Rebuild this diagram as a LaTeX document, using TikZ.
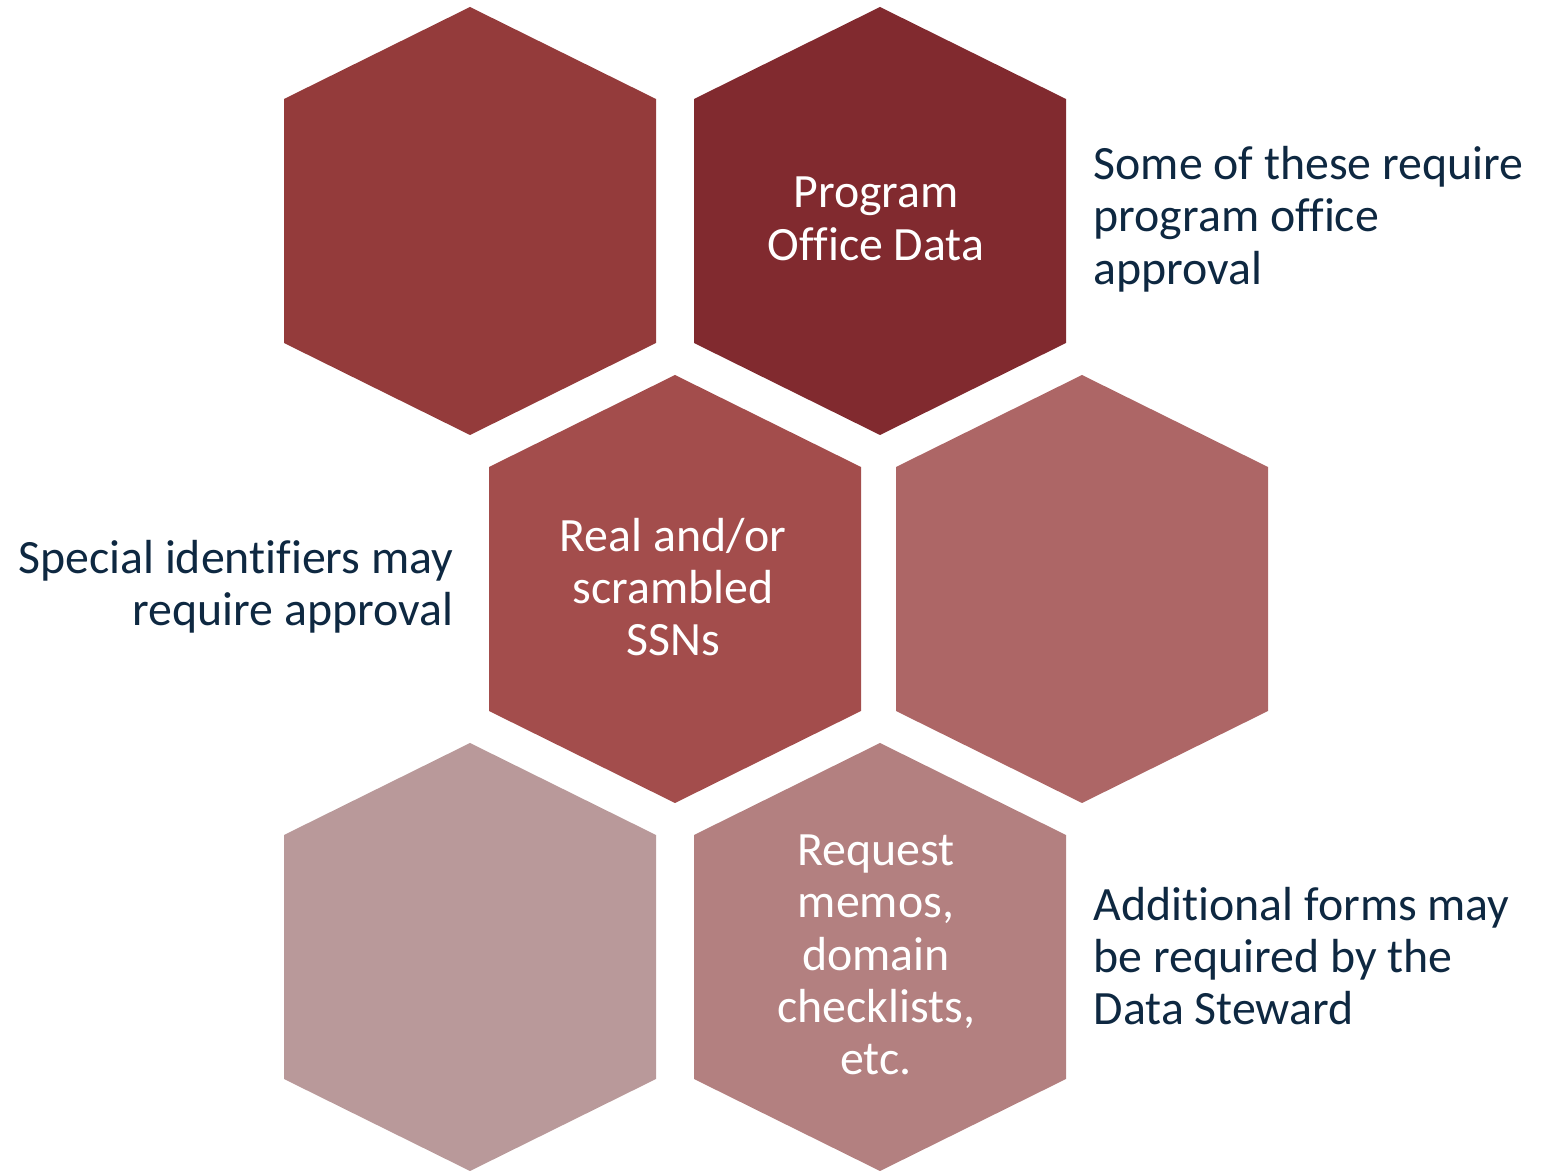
\documentclass[tikz,border=0pt]{standalone}
\usepackage{fontspec}
\setmainfont{Carlito}[Ligatures={NoCommon}]
\usepackage{tikz}

\definecolor{hexA}{HTML}{943B3B}
\definecolor{hexB}{HTML}{812A2F}
\definecolor{hexC}{HTML}{A34D4C}
\definecolor{hexD}{HTML}{AD6666}
\definecolor{hexE}{HTML}{B9999A}
\definecolor{hexF}{HTML}{B38080}
\definecolor{navytext}{HTML}{0E2841}

% one pointy-top cell: centre x, centre y, fill
\newcommand{\hexcell}[3]{%
    \fill [#3] (#1, #2-214) -- (#1+186, #2-122) -- (#1+186, #2+122)
        -- (#1, #2+214) -- (#1-186, #2+122) -- (#1-186, #2-122) -- cycle;}

\tikzset{
    hexlabel/.style={text=white, align=center, inner sep=0pt,
        font=\fontsize{13.6pt}{14.9pt}\selectfont},
    sidenote/.style={text=navytext, inner sep=0pt,
        font=\fontsize{13.6pt}{14.9pt}\selectfont}
}

\begin{document}
\begin{tikzpicture}[x=0.01cm, y=-0.01cm]
        \useasboundingbox (0, 0) rectangle (1550, 1173);
        \hexcell{470}{221}{hexA}
        \hexcell{880}{221}{hexB}
        \hexcell{675}{589}{hexC}
        \hexcell{1082}{589}{hexD}
        \hexcell{470}{957}{hexE}
        \hexcell{880}{957}{hexF}

        \node [hexlabel] (office) at (876, 219) {Program\\Office Data};
        \node [hexlabel] (ssn) at (673, 587) {Real and/or\\scrambled\\SSNs};
        \node [hexlabel] (memos) at (876, 955) {Request\\memos,\\domain\\checklists,\\etc.};

        \node [sidenote, anchor=west, align=left] (officenote) at (1093, 219)
            {Some of these require\\program office\\approval};
        \node [sidenote, anchor=east, align=right] (ssnnote) at (454, 587)
            {Special identifiers may\\require approval};
        \node [sidenote, anchor=west, align=left] (memonote) at (1093, 956)
            {Additional forms may\\be required by the\\Data Steward};
    \end{tikzpicture}
\end{document}
